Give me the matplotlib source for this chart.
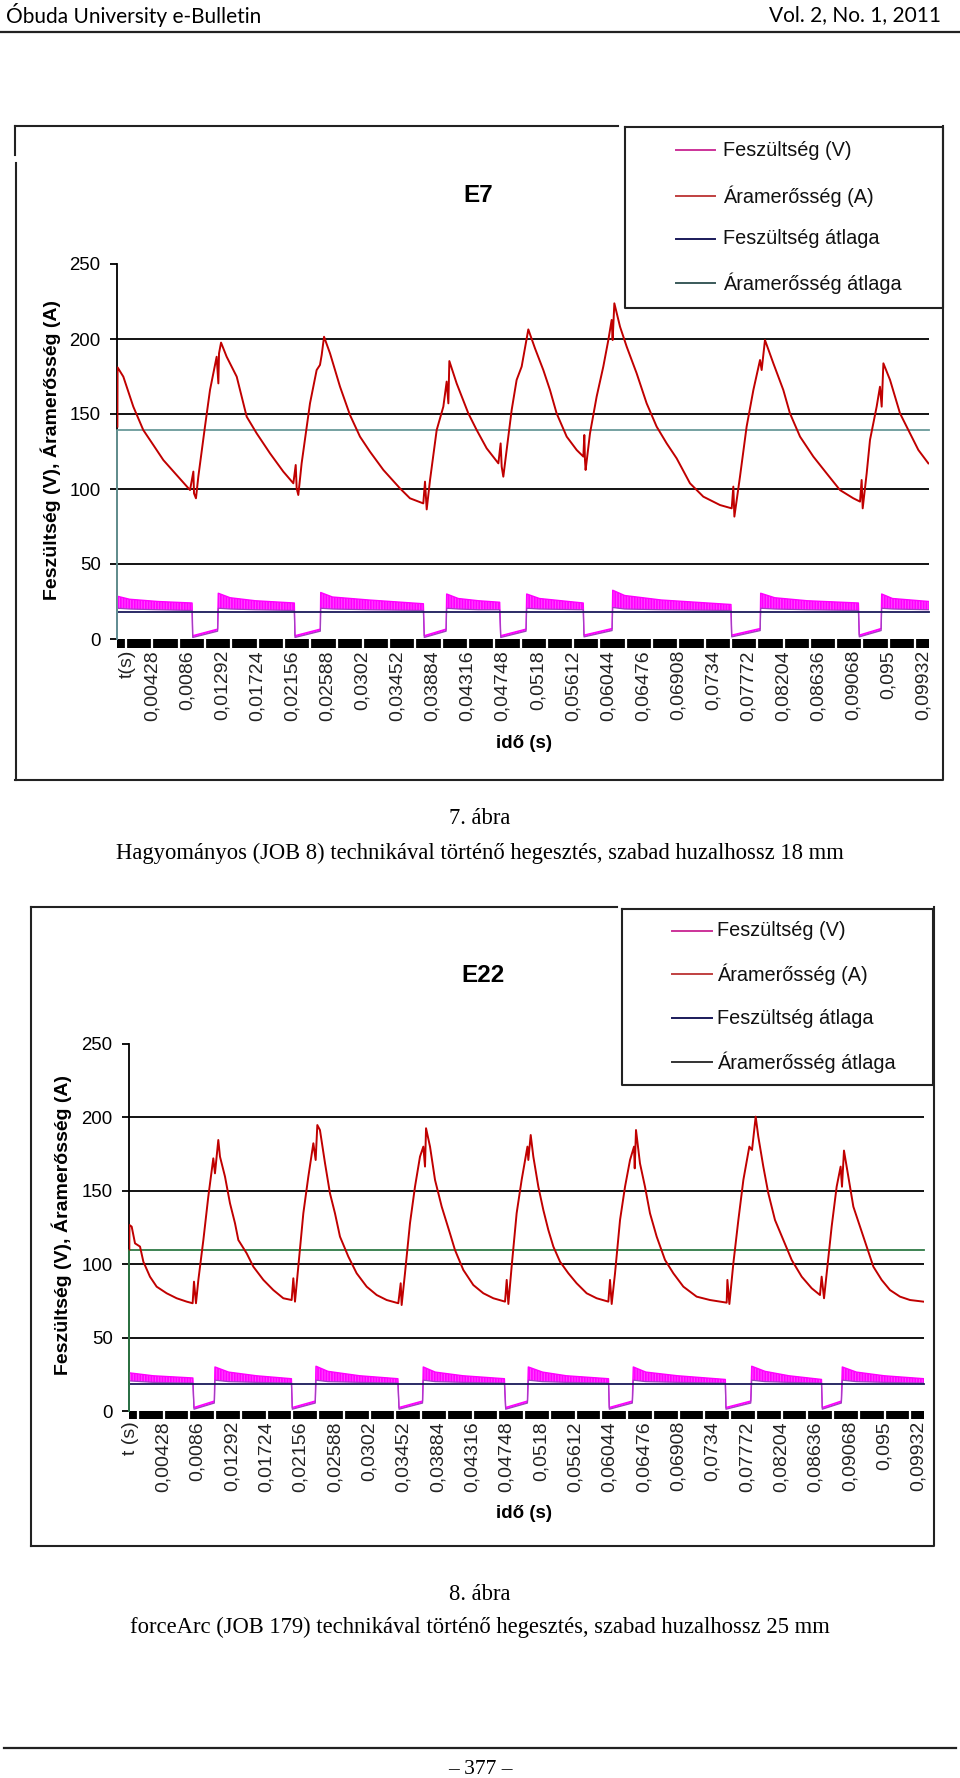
import matplotlib
matplotlib.use('agg')
import matplotlib.pyplot as plt
from matplotlib.lines import Line2D
from matplotlib.patches import Rectangle
import numpy as np

W, H = 960, 1778

# x axis labels, seconds (decimal comma as in the source)
time_labels = ['0,00428', '0,0086', '0,01292', '0,01724', '0,02156', '0,02588',
               '0,0302', '0,03452', '0,03884', '0,04316', '0,04748', '0,0518',
               '0,05612', '0,06044', '0,06476', '0,06908', '0,0734', '0,07772',
               '0,08204', '0,08636', '0,09068', '0,095', '0,09932']
y_ticks = [0, 50, 100, 150, 200, 250]
grid_levels = [50, 100, 150, 200]
legend_labels = ['Feszültség (V)', 'Áramerősség (A)', 'Feszültség átlaga', 'Áramerősség átlaga']

# E7: current (t in ms, A)
e7_current = [
    (0.0, 141.6), (0.02, 181.1), (0.73, 174.9), (1.96, 154.9), (3.19, 139.3), (4.43, 129.3),
    (5.66, 119.3), (7.30, 109.3), (8.95, 99.3), (9.36, 111.6), (9.44, 97.1), (9.68, 93.8),
    (9.97, 108.2), (10.79, 141.6), (11.41, 166.0), (12.23, 188.2), (12.44, 170.4), (12.52, 190.4),
    (12.77, 197.6), (13.46, 188.2), (14.70, 174.9), (15.93, 148.2), (17.16, 137.1), (18.80, 123.8),
    (20.44, 111.6), (21.68, 103.8), (21.97, 116.0), (22.09, 100.4), (22.29, 96.0), (22.70, 117.1),
    (23.73, 157.1), (24.55, 179.3), (24.96, 182.7), (25.17, 189.3), (25.46, 201.5), (26.20, 190.4),
    (27.43, 168.2), (28.66, 149.3), (29.89, 134.9), (31.12, 124.9), (32.77, 112.7), (34.82, 100.4),
    (36.05, 93.8), (37.69, 90.4), (37.90, 104.9), (38.11, 86.4), (38.52, 106.0), (39.34, 139.3),
    (40.16, 154.9), (40.57, 171.6), (40.78, 157.1), (40.90, 185.3), (41.80, 170.4), (43.24, 150.4),
    (44.27, 139.3), (45.50, 127.1), (46.94, 117.1), (47.22, 130.4), (47.35, 114.9), (47.55, 108.2),
    (47.96, 126.0), (48.58, 152.7), (49.19, 172.7), (49.81, 181.6), (50.63, 206.4), (51.45, 193.8),
    (52.48, 179.3), (53.30, 166.0), (54.12, 150.4), (55.36, 134.9), (56.59, 126.0), (57.41, 121.6),
    (57.53, 136.0), (57.61, 119.3), (57.69, 112.7), (58.23, 137.1), (59.05, 161.6), (59.87, 181.6),
    (60.49, 199.3), (60.90, 212.7), (61.02, 199.3), (61.23, 223.8), (61.93, 208.2), (62.75, 194.9),
    (63.98, 177.1), (65.21, 157.1), (66.44, 141.6), (67.68, 130.4), (68.91, 120.4), (70.55, 103.8),
    (72.19, 94.9), (74.25, 89.3), (75.69, 87.1), (75.89, 101.6), (76.02, 81.6), (76.71, 108.2),
    (77.53, 141.6), (78.36, 166.0), (79.18, 186.0), (79.38, 179.3), (79.79, 199.3), (80.82, 183.8),
    (82.05, 166.0), (82.87, 150.4), (84.11, 134.9), (85.75, 121.6), (87.39, 110.4), (89.03, 99.3),
    (90.68, 93.8), (91.50, 91.6), (91.70, 106.0), (91.83, 87.1), (92.32, 110.4), (92.73, 132.7),
    (93.55, 154.9), (93.96, 168.2), (94.17, 154.9), (94.38, 183.8), (95.20, 172.7), (96.43, 150.4),
    (97.66, 137.1), (98.69, 126.0), (99.92, 117.1),
]
# E7: voltage band (t in ms, upper, lower)
e7_voltage = [
    (0.0, 28.5, 20.5), (1.5, 26.5, 20.0), (5.0, 25.0, 19.5), (9.2, 24.0, 19.0),
    (9.28, 2.2, 1.0), (12.35, 6.6, 5.2),
    (12.43, 30.5, 20.5), (13.9, 27.5, 20.0), (17.0, 25.5, 19.5), (21.8, 24.0, 19.0),
    (21.88, 2.2, 1.0), (25.0, 6.6, 5.2),
    (25.05, 31.0, 20.5), (26.5, 28.0, 20.0), (31.0, 26.0, 19.5), (37.7, 23.5, 19.0),
    (37.81, 2.2, 1.0), (40.5, 6.6, 5.2),
    (40.57, 30.0, 20.5), (42.0, 27.0, 20.0), (44.5, 25.5, 19.5), (47.1, 24.5, 19.5),
    (47.23, 2.2, 1.0), (50.35, 6.6, 5.2),
    (50.43, 30.0, 20.5), (52.0, 27.0, 20.0), (57.4, 24.0, 19.5),
    (57.49, 2.6, 1.4), (60.95, 7.0, 5.6),
    (61.03, 32.5, 21.0), (62.5, 29.0, 20.0), (67.0, 26.0, 19.5), (75.6, 23.0, 19.0),
    (75.69, 2.6, 1.4), (79.2, 7.0, 5.6),
    (79.26, 30.5, 20.5), (81.0, 27.5, 20.0), (85.0, 25.5, 19.5), (91.3, 24.0, 19.0),
    (91.41, 2.6, 1.4), (94.1, 7.0, 5.6),
    (94.17, 30.0, 20.5), (95.5, 27.0, 20.0), (100.0, 25.0, 19.5),
]
e7_current_avg = 139.3
e7_voltage_avg = 18.2

# E22: current (t in ms, A)
e22_current = [
    (0.0, 110.0), (0.02, 126.7), (0.30, 125.6), (0.72, 114.2), (1.35, 112.0), (1.77, 101.7),
    (2.60, 91.5), (3.44, 84.7), (4.70, 80.2), (5.96, 76.8), (7.22, 74.5), (7.97, 73.4),
    (8.14, 88.1), (8.39, 73.4), (8.69, 89.3), (9.32, 116.5), (9.94, 146.0), (10.57, 172.1),
    (10.78, 161.9), (11.20, 184.6), (11.41, 173.3), (12.04, 159.7), (12.67, 141.5), (13.30, 127.9),
    (13.72, 116.5), (14.77, 107.4), (15.61, 98.3), (16.87, 89.3), (18.12, 82.4), (19.38, 76.8),
    (20.43, 75.6), (20.64, 90.4), (20.85, 74.5), (21.27, 98.3), (21.90, 134.7), (22.53, 159.7),
    (23.16, 182.4), (23.45, 171.0), (23.66, 194.8), (23.99, 191.4), (24.63, 168.7), (25.25, 148.3),
    (25.88, 134.7), (26.51, 118.8), (27.56, 105.2), (28.61, 93.8), (29.87, 84.7), (31.13, 79.0),
    (32.39, 75.6), (33.85, 73.4), (34.15, 87.0), (34.27, 72.2), (34.69, 93.8), (35.32, 127.9),
    (35.95, 152.8), (36.58, 173.3), (37.00, 180.1), (37.21, 166.5), (37.34, 192.6), (37.84, 180.1),
    (38.47, 157.4), (39.31, 139.2), (40.35, 121.0), (40.98, 109.7), (42.03, 96.1), (43.29, 85.8),
    (44.55, 80.2), (45.81, 76.8), (47.28, 74.5), (47.49, 89.3), (47.70, 72.9), (48.11, 98.3),
    (48.74, 134.7), (49.37, 157.4), (50.10, 180.1), (50.21, 171.0), (50.51, 188.0), (50.84, 173.3),
    (51.47, 152.8), (52.10, 136.9), (52.73, 123.3), (53.36, 112.0), (54.20, 101.7), (55.25, 93.8),
    (56.29, 87.0), (57.55, 80.2), (58.81, 76.8), (60.28, 74.5), (60.49, 89.3), (60.70, 72.9),
    (61.12, 93.8), (61.75, 130.1), (62.38, 152.8), (63.01, 171.0), (63.51, 180.1), (63.60, 165.3),
    (63.76, 191.4), (64.26, 168.7), (64.89, 152.8), (65.52, 134.7), (66.36, 118.8), (67.41, 102.9),
    (68.46, 93.8), (69.72, 84.7), (71.39, 77.9), (73.07, 75.6), (75.17, 73.8), (75.26, 89.3),
    (75.51, 72.9), (76.01, 100.6), (76.64, 130.1), (77.27, 157.4), (78.02, 180.1), (78.36, 177.8),
    (78.82, 200.5), (79.15, 186.9), (79.78, 166.5), (80.41, 148.3), (81.25, 130.1), (82.30, 116.5),
    (83.35, 102.9), (84.61, 91.5), (85.87, 83.6), (86.91, 79.0), (87.12, 91.5), (87.42, 76.8),
    (87.75, 93.8), (88.38, 125.6), (89.01, 152.8), (89.51, 166.5), (89.68, 152.8), (89.93, 177.4),
    (90.48, 159.7), (91.11, 139.2), (91.95, 125.6), (92.79, 112.0), (93.63, 98.3), (94.67, 89.3),
    (95.72, 82.4), (96.98, 77.9), (98.24, 75.6), (99.92, 74.5),
]
# E22: voltage band (t in ms, upper, lower)
e22_voltage = [
    (0.0, 26.0, 20.5), (3.0, 24.0, 19.5), (8.0, 22.5, 19.0),
    (8.14, 2.4, 1.2), (10.7, 6.8, 5.4),
    (10.78, 30.0, 21.0), (12.5, 26.5, 20.0), (16.0, 24.0, 19.5), (20.4, 22.0, 19.0),
    (20.51, 2.4, 1.2), (23.4, 6.8, 5.4),
    (23.49, 30.5, 21.0), (25.0, 27.0, 20.0), (29.0, 24.0, 19.5), (33.8, 22.0, 19.0),
    (33.94, 2.4, 1.2), (36.9, 6.8, 5.4),
    (36.99, 30.0, 21.0), (38.5, 26.5, 20.0), (42.0, 24.0, 19.5), (47.2, 22.0, 19.0),
    (47.36, 2.4, 1.2), (50.1, 6.8, 5.4),
    (50.21, 30.0, 21.0), (52.0, 26.5, 20.0), (55.0, 24.0, 19.5), (60.3, 22.0, 19.0),
    (60.40, 2.4, 1.2), (63.3, 6.8, 5.4),
    (63.42, 30.0, 21.0), (65.0, 26.5, 20.0), (69.0, 24.0, 19.5), (75.0, 21.5, 19.0),
    (75.08, 2.4, 1.2), (78.2, 6.8, 5.4),
    (78.32, 30.5, 21.0), (80.0, 27.0, 20.0), (83.0, 24.0, 19.5), (87.1, 21.5, 19.0),
    (87.20, 2.4, 1.2), (89.6, 6.8, 5.4),
    (89.72, 30.0, 21.0), (91.5, 26.5, 20.0), (95.0, 24.0, 19.5), (100.0, 22.0, 19.0),
]
e22_current_avg = 109.9
e22_voltage_avg = 18.4

CUR_COLOR = '#c00000'
VOLT_COLOR = '#ff00ff'
VOLT_EDGE = '#a040c0'
VAVG_COLOR = '#1a1a5a'

plt.rcParams['font.family'] = ['Liberation Sans', 'DejaVu Sans']
plt.rcParams['hatch.linewidth'] = 1.2


def fline(fig, xs, ys, **kw):
    fig.add_artist(Line2D([x / W for x in xs], [1 - y / H for y in ys], **kw))


def ftext(fig, x, y, s, **kw):
    fig.text(x / W, 1 - y / H, s, **kw)


def draw_panel(fig, p, current, voltage, cur_avg, volt_avg):
    l, t, r, b = p['axes']
    ax = fig.add_axes([l / W, 1 - b / H, (r - l) / W, (b - t) / H])
    ax.set_xlim(0, 100)
    ax.set_ylim(0, 250)
    ct, cv = zip(*current)
    vt, vhi, vlo = zip(*voltage)

    ax.hlines(grid_levels, 0, 100, colors='black', lw=1.3, zorder=1)
    ax.fill_between(vt, vlo, vhi, facecolor='#ff44ff', edgecolor=VOLT_COLOR,
                    hatch='||||||', lw=0, zorder=2)
    ax.plot(vt, vhi, color=VOLT_COLOR, lw=1.0, zorder=3)
    ax.plot(vt, vlo, color=VOLT_EDGE, lw=0.9, zorder=3)
    ax.plot([0, 0, 100], [0, volt_avg, volt_avg], color=VAVG_COLOR, lw=1.3,
            zorder=4, clip_on=False)
    ax.plot([0, 0, 100], [0, cur_avg, cur_avg], color=p['avg_color'], lw=1.3,
            zorder=4, clip_on=False)
    ax.plot(ct, cv, color=CUR_COLOR, lw=1.4, zorder=5)

    for side in ['top', 'right', 'bottom']:
        ax.spines[side].set_visible(False)
    ax.spines['left'].set_linewidth(1.3)
    ax.spines['left'].set_zorder(0.5)

    # black category band under the axis
    tr = ax.get_xaxis_transform()
    frac = p['band'] / (b - t)
    ax.add_patch(Rectangle((0, -frac), 100, frac, transform=tr, color='black',
                           clip_on=False, lw=0))
    ax.vlines(np.arange(1.08, 100, 3.24), -frac, 0, transform=tr, colors='white',
              lw=1.6, clip_on=False)

    pos = [p['first_pos']] + [float(s.replace(',', '.')) * 1000 for s in time_labels]
    ax.set_xticks(pos)
    ax.set_xticklabels([p['first_label']] + time_labels, rotation=90, fontsize=14,
                       color='#222222')
    ax.tick_params(axis='x', length=0, pad=p['band'] * 0.72 + 1.5)
    ax.set_yticks(y_ticks)
    ax.tick_params(axis='y', length=5, width=1.3, pad=7, labelsize=13.4)

    # outer frame
    fl, ft, fr, fb = p['frame']
    fline(fig, [fl, p['frame_top_end']], [ft, ft], color='#222222', lw=1.5)
    fline(fig, [fl, fr, fr], [fb, fb, ft], color='#222222', lw=1.5)
    for seg in p['left_frame']:
        fline(fig, [seg[0], seg[0]], [seg[1], seg[2]], color='#222222', lw=1.5)

    # legend box
    bl, bt, br, bb = p['legend_box']
    fline(fig, [bl, br, br, bl, bl], [bt, bt, bb, bb, bt], color='#222222', lw=1.5)
    colors = ['#cc3399', '#c04040', VAVG_COLOR, p['legend_avg_color']]
    x1, x2, xt = p['legend_x']
    for y, lab, c in zip(p['legend_y'], legend_labels, colors):
        fline(fig, [x1, x2], [y, y], color=c, lw=1.4)
        ftext(fig, xt, y, lab, fontsize=14.3, va='center', ha='left', color='#111111')

    ftext(fig, p['title_xy'][0], p['title_xy'][1], p['title'], fontsize=17.5,
          fontweight='bold', ha='center', va='center')
    ftext(fig, p['ylabel_xy'][0], p['ylabel_xy'][1], 'Feszültség (V), Áramerősség (A)',
          fontsize=14, fontweight='bold', rotation=90, ha='center', va='center')
    ftext(fig, p['xlabel_xy'][0], p['xlabel_xy'][1], 'idő (s)', fontsize=13.5,
          fontweight='bold', ha='center', va='center')


def main():
    fig = plt.figure(figsize=(W / 100, H / 100), dpi=100)

    # page header
    ftext(fig, 6, 15, 'Óbuda University e-Bulletin', fontsize=15,
          family=['Lato', 'DejaVu Sans'], ha='left', va='center')
    ftext(fig, 941, 15, 'Vol. 2, No. 1, 2011', fontsize=15,
          family=['Lato', 'DejaVu Sans'], ha='right', va='center')
    fline(fig, [0, 960], [31.5, 31.5], color='#222222', lw=1.6)

    e7 = dict(axes=(117.4, 264, 929, 639), band=9, first_label='t(s)', first_pos=1.2,
              avg_color='#6a9a9a', legend_avg_color='#3a5a5a',
              frame=(15, 125.5, 943, 780), frame_top_end=618,
              left_frame=[(15, 125.5, 155), (16, 163, 780)],
              legend_box=(625, 127, 943, 308), legend_x=(676, 715, 723),
              legend_y=(150, 196, 239, 283), title='E7', title_xy=(478, 196),
              ylabel_xy=(51, 450), xlabel_xy=(524, 744))
    draw_panel(fig, e7, e7_current, e7_voltage, e7_current_avg, e7_voltage_avg)

    e22 = dict(axes=(129.3, 1044, 924, 1411), band=8, first_label='t (s)', first_pos=0.2,
               avg_color='#2e7a45', legend_avg_color='#333333',
               frame=(30.6, 907.5, 934, 1546), frame_top_end=617,
               left_frame=[(30.6, 907.5, 1546)],
               legend_box=(621.7, 909, 933.3, 1085), legend_x=(672, 712, 717),
               legend_y=(931, 974, 1018, 1062), title='E22', title_xy=(483, 975),
               ylabel_xy=(62, 1225), xlabel_xy=(524, 1513))
    draw_panel(fig, e22, e22_current, e22_voltage, e22_current_avg, e22_voltage_avg)

    serif = ['Liberation Serif', 'DejaVu Serif']
    ftext(fig, 480, 818, '7. ábra', fontsize=16.3, family=serif, ha='center', va='center')
    ftext(fig, 480, 853, 'Hagyományos (JOB 8) technikával történő hegesztés, szabad huzalhossz 18 mm',
          fontsize=16.3, family=serif, ha='center', va='center')
    ftext(fig, 480, 1595, '8. ábra', fontsize=16.3, family=serif, ha='center', va='center')
    ftext(fig, 480, 1627, 'forceArc (JOB 179) technikával történő hegesztés, szabad huzalhossz 25 mm',
          fontsize=16.3, family=serif, ha='center', va='center')

    # page footer
    fline(fig, [4, 956], [1748, 1748], color='#222222', lw=1.6)
    ftext(fig, 480, 1769, '– 377 –', fontsize=15.5, family=serif, ha='center', va='center')

    fig.savefig('out.png', dpi=100)


if __name__ == '__main__':
    main()
